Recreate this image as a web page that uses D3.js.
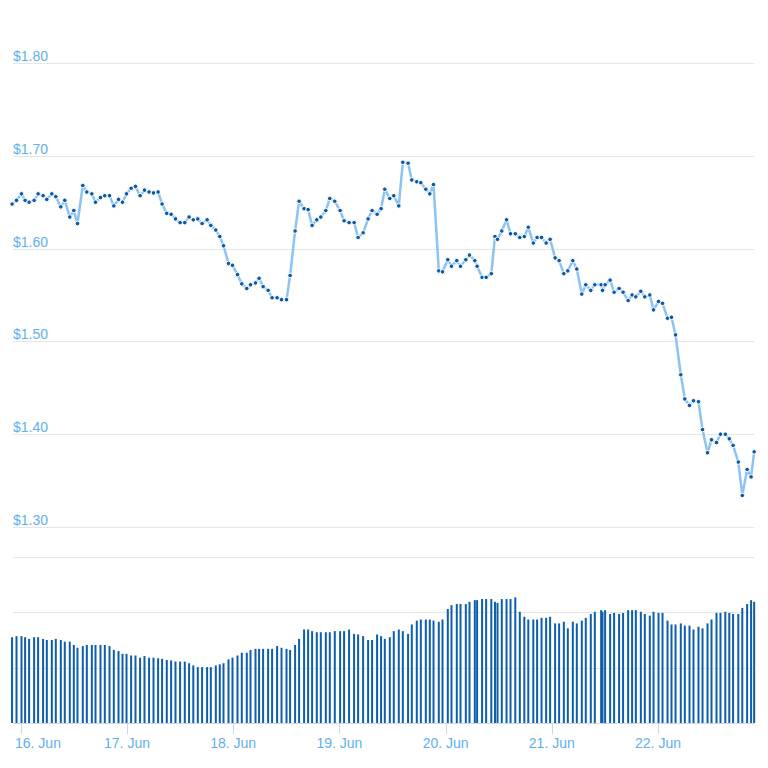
<!DOCTYPE html>
<html>
<head>
<meta charset="utf-8">
<script src="https://cdn.jsdelivr.net/npm/d3@7/dist/d3.min.js"></script>
<style>
  html, body { margin: 0; padding: 0; background: #ffffff; }
  svg { display: block; font-family: "Liberation Sans", Arial, Helvetica, sans-serif; }
</style>
</head>
<body>
<svg id="chart" width="768" height="768"></svg>
<script>
// Hours after 16 Jun 00:00 (UTC) of each sample
const hours = [-1.97,-0.97,0.16,0.97,1.88,3.01,3.91,5.04,5.88,7.01,7.91,9.04,9.94,11.07,11.98,12.81,14.01,14.92,16.05,16.88,18.01,18.98,20.05,21.02,22.08,22.98,23.89,24.93,25.92,26.96,27.95,28.99,29.99,31.03,31.93,32.99,33.97,34.96,36.0,37.06,38.03,38.98,40.0,40.97,42.10,42.94,44.07,44.97,45.81,46.94,47.84,48.97,49.94,51.07,51.91,53.04,53.85,54.76,55.89,56.79,57.92,58.92,60.05,60.86,61.99,62.89,64.02,64.93,65.83,66.89,67.80,68.93,69.83,70.96,72.16,73.06,74.19,75.32,76.23,77.36,78.49,79.39,80.52,81.42,82.26,83.39,84.29,85.42,86.33,87.52,88.36,89.49,90.40,91.53,92.43,93.27,94.46,95.30,96.50,97.33,98.53,99.37,100.57,101.40,102.60,103.12,104.25,105.16,106.33,107.16,107.73,108.70,109.77,110.67,111.75,112.77,113.79,114.69,115.82,116.68,117.68,118.72,119.62,120.75,121.65,122.72,123.62,124.75,125.65,126.78,127.68,128.81,129.72,131.15,131.46,132.05,133.18,134.08,135.21,136.11,137.25,138.15,138.99,140.12,141.02,142.15,142.99,144.12,145.02,146.15,147.05,147.96,149.15,150.06,151.12,152.02,153.15,154.06,155.19,156.09,157.22,158.12,159.21,160.11,160.97,162.15,163.05,164.14,165.04,165.73];

const prices = [1.648,1.652,1.659,1.652,1.650,1.652,1.659,1.657,1.653,1.659,1.656,1.645,1.652,1.634,1.641,1.627,1.668,1.661,1.659,1.650,1.655,1.657,1.657,1.646,1.653,1.650,1.659,1.665,1.667,1.657,1.663,1.661,1.660,1.661,1.648,1.638,1.637,1.632,1.628,1.628,1.634,1.631,1.632,1.627,1.631,1.625,1.620,1.613,1.603,1.584,1.582,1.572,1.562,1.557,1.561,1.563,1.568,1.559,1.555,1.547,1.547,1.545,1.545,1.571,1.619,1.651,1.643,1.642,1.625,1.631,1.634,1.641,1.654,1.651,1.641,1.630,1.628,1.628,1.612,1.617,1.632,1.641,1.637,1.643,1.664,1.654,1.657,1.646,1.693,1.692,1.674,1.672,1.671,1.664,1.659,1.669,1.576,1.575,1.588,1.581,1.587,1.581,1.588,1.593,1.587,1.581,1.569,1.569,1.573,1.613,1.610,1.619,1.631,1.616,1.616,1.612,1.613,1.623,1.606,1.612,1.612,1.606,1.610,1.590,1.587,1.573,1.576,1.587,1.578,1.551,1.561,1.555,1.561,1.561,1.555,1.561,1.566,1.553,1.557,1.553,1.544,1.550,1.548,1.554,1.548,1.550,1.534,1.543,1.541,1.525,1.526,1.507,1.464,1.438,1.431,1.436,1.435,1.405,1.380,1.394,1.391,1.400,1.400,1.395,1.388,1.370,1.334,1.362,1.354,1.381];

const volumes = [15.5,15.7,15.7,15.5,15.2,15.5,15.5,15.2,15.0,15.0,15.2,15.0,14.7,14.7,14.1,13.6,13.9,14.1,14.1,14.1,14.1,14.1,13.9,13.2,13.0,12.5,12.5,12.2,12.2,11.8,12.1,11.8,11.8,11.7,11.6,11.4,11.3,11.1,11.1,11.1,10.8,10.4,10.1,10.1,10.1,10.1,10.4,10.6,10.8,11.5,11.8,12.2,12.7,12.7,13.2,13.4,
13.4,13.4,13.4,13.4,13.9,13.6,13.4,13.2,14.1,15.2,16.9,16.9,16.6,16.4,16.4,16.4,16.4,16.6,16.6,16.6,16.9,16.1,16.0,15.7,15.0,15.0,16.0,15.7,15.2,15.5,16.6,16.9,16.6,16.1,17.8,18.5,18.7,18.7,18.7,18.5,18.3,18.7,20.6,21.3,21.5,21.5,21.5,21.9,22.2,22.2,22.4,22.4,22.4,21.9,21.7,22.4,22.4,22.4,22.7,
20.1,19.2,18.7,18.7,18.7,19.0,19.0,19.2,18.0,18.0,18.3,17.1,18.3,18.0,18.5,19.0,19.7,20.1,20.4,20.1,20.4,19.7,19.9,19.7,19.9,20.4,20.4,20.4,20.1,19.7,19.4,20.1,19.9,19.9,18.5,17.8,17.8,18.0,17.6,17.6,16.9,17.4,17.1,18.0,18.7,19.9,19.9,20.1,19.9,19.7,19.7,20.8,21.5,22.2,21.9];

const priceTicks = [1.30, 1.40, 1.50, 1.60, 1.70, 1.80];
const volumeTicks = [0, 10, 20, 30];
const dayLabels = ["16. Jun", "17. Jun", "18. Jun", "19. Jun", "20. Jun", "21. Jun", "22. Jun"];

const start = Date.UTC(2023, 5, 16);
const HOUR = 3600e3;
const data = hours.map((h, i) => ({ t: new Date(start + h * HOUR), p: prices[i], v: volumes[i] }));
const dayDates = dayLabels.map((_, i) => new Date(start + i * 24 * HOUR));

const svg = d3.select("#chart");
const plotLeft = 13, plotRight = 754;

const x = d3.scaleUtc()
  .domain([new Date(start), new Date(start + 168 * HOUR)])
  .range([20.8, 20.8 + 168 * 4.425]);
const yP = d3.scaleLinear().domain([1.30, 1.80]).range([527, 63]);
const yV = d3.scaleLinear().domain([0, 30]).range([723, 557]);

const labelColor = "#5eb0ef";

// price grid + labels
const gP = svg.append("g");
gP.selectAll("line").data(priceTicks).join("line")
  .attr("x1", plotLeft).attr("x2", plotRight)
  .attr("y1", d => Math.round(yP(d)) + 0.5).attr("y2", d => Math.round(yP(d)) + 0.5)
  .attr("stroke", "#e6e6e6").attr("stroke-width", 1);
gP.selectAll("text").data(priceTicks).join("text")
  .attr("x", plotLeft).attr("y", d => yP(d) - 2)
  .attr("fill", labelColor).attr("font-size", 14)
  .text(d => "$" + d3.format(".2f")(d));

// volume grid
svg.append("g").selectAll("line").data(volumeTicks.filter(d => d > 0)).join("line")
  .attr("x1", plotLeft).attr("x2", plotRight)
  .attr("y1", d => Math.round(yV(d)) + 0.5).attr("y2", d => Math.round(yV(d)) + 0.5)
  .attr("stroke", "#e6e6e6").attr("stroke-width", 1);

// volume bars
svg.append("g").selectAll("rect").data(data).join("rect")
  .attr("x", d => x(d.t) - 1).attr("width", 2)
  .attr("y", d => yV(d.v)).attr("height", d => yV(0) - yV(d.v))
  .attr("fill", "#0d5eab");

// x axis line
svg.append("line")
  .attr("x1", plotLeft).attr("x2", plotRight)
  .attr("y1", 723.5).attr("y2", 723.5)
  .attr("stroke", "#ccd6eb").attr("stroke-width", 1);

// day ticks & labels
const gX = svg.append("g");
gX.selectAll("line").data(dayDates).join("line")
  .attr("x1", d => Math.round(x(d)) + 0.5).attr("x2", d => Math.round(x(d)) + 0.5)
  .attr("y1", 723).attr("y2", 734)
  .attr("stroke", "#ccd6eb").attr("stroke-width", 1);
gX.selectAll("text").data(dayDates).join("text")
  .attr("x", d => x(d)).attr("y", 748)
  .attr("text-anchor", "middle")
  .attr("fill", labelColor).attr("font-size", 14)
  .text((d, i) => dayLabels[i])
  .each(function () {
    const b = this.getBBox();
    if (b.x < 15) d3.select(this).attr("x", +d3.select(this).attr("x") + (15 - b.x));
  });

// price line
svg.append("path").datum(data)
  .attr("fill", "none")
  .attr("stroke", "#8cc3f3")
  .attr("stroke-width", 2.5)
  .attr("stroke-linejoin", "round")
  .attr("d", d3.line().x(d => x(d.t)).y(d => yP(d.p)));

// markers
svg.append("g").selectAll("circle").data(data).join("circle")
  .attr("cx", d => x(d.t)).attr("cy", d => yP(d.p))
  .attr("r", 2.3)
  .attr("fill", "#0b5aa6")
  .attr("stroke", "#ffffff").attr("stroke-width", 1);
</script>
</body>
</html>
